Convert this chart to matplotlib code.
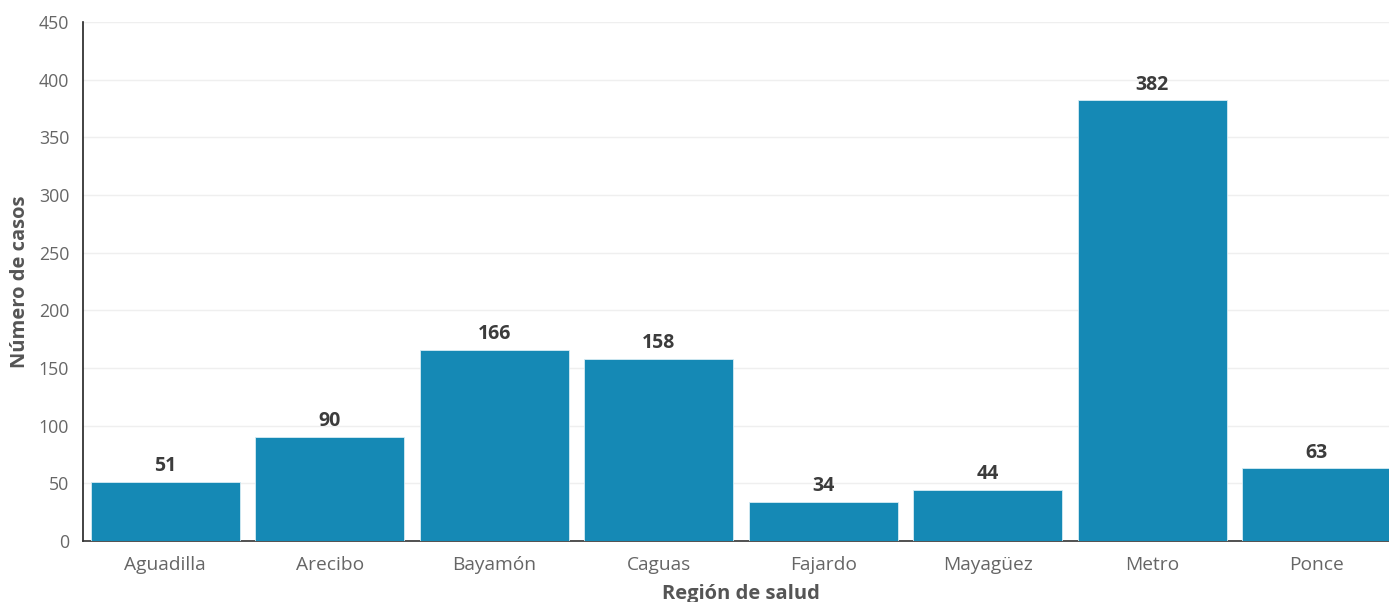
import matplotlib
matplotlib.use("Agg")
import matplotlib.pyplot as plt

regiones = ["Aguadilla", "Arecibo", "Bayamón", "Caguas", "Fajardo", "Mayagüez", "Metro", "Ponce"]
casos = [51, 90, 166, 158, 34, 44, 382, 63]
yticks = [0, 50, 100, 150, 200, 250, 300, 350, 400, 450]

plt.rcParams["font.family"] = ["Open Sans", "DejaVu Sans"]

fig = plt.figure(figsize=(13.89, 6.02), dpi=100)
ax = fig.add_axes([83 / 1389, 61 / 602, 1316 / 1389, 519 / 602])

x = range(len(regiones))
bars = ax.bar(x, casos, width=0.905, color="#1589B5", edgecolor="#d6ecf4",
              linewidth=0.6, zorder=3)

for xi, v in zip(x, casos):
    ax.text(xi, v + 5, str(v), ha="center", va="bottom", fontsize=14,
            fontweight="bold", color="#3c3c3c")

ax.set_xlim(-0.5, len(regiones) - 0.5)
ax.set_ylim(0, 450)
ax.set_yticks(yticks)
ax.set_xticks(list(x))
ax.set_xticklabels(regiones, fontsize=13.8)
ax.yaxis.grid(True, color="#efefef", linewidth=1, zorder=0)
ax.xaxis.grid(False)

for side in ("top", "right"):
    ax.spines[side].set_visible(False)
ax.spines["left"].set_color("#222222")
ax.spines["bottom"].set_color("#333333")
ax.spines["left"].set_linewidth(1.2)
ax.spines["bottom"].set_linewidth(1.2)

ax.tick_params(axis="both", length=0, labelcolor="#666666")
ax.tick_params(axis="y", pad=10, labelsize=12.8)
ax.tick_params(axis="x", pad=11)

ax.set_ylabel("Número de casos", fontsize=14.5, fontweight="bold", color="#555555")
ax.yaxis.set_label_coords(-63 / 1316, 0.5)
ax.set_xlabel("Región de salud", fontsize=14.5, fontweight="bold", color="#555555", labelpad=5)
ax.xaxis.set_label_coords((741 - 83) / 1316, -53 / 519)
ax.xaxis.label.set_va("center")
ax.yaxis.label.set_va("center")

fig.savefig("out.png", dpi=100)
